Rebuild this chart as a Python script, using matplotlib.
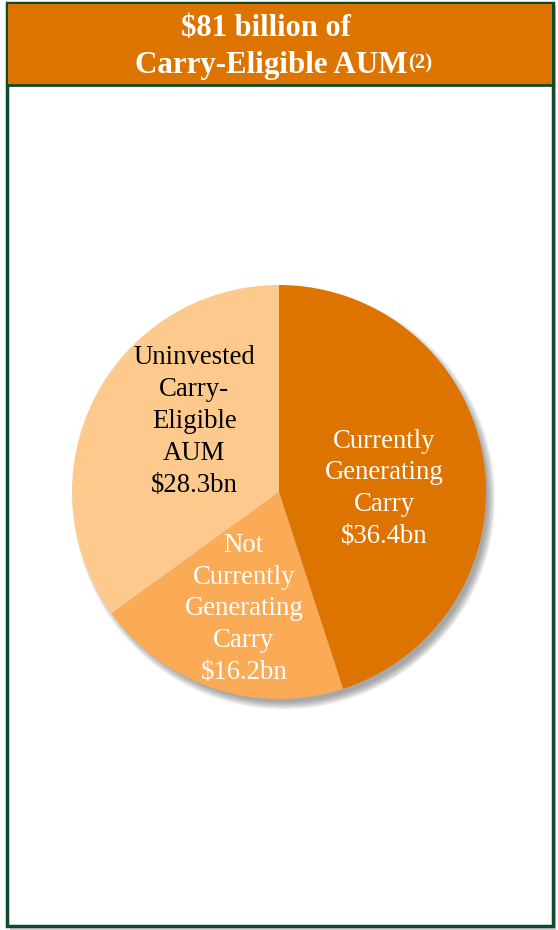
import matplotlib.pyplot as plt
from matplotlib.patches import Rectangle, Circle

# Carry-eligible AUM breakdown ($bn)
labels = ["Currently\nGenerating\nCarry", "Not\nCurrently\nGenerating\nCarry",
          "Uninvested\nCarry-\nEligible\nAUM"]
values = [36.4, 16.2, 28.3]
colors = ["#DE7400", "#FBAA55", "#FDC98D"]
text_colors = ["white", "white", "black"]
label_pos = [(0.51, 0.015), (-0.17, -0.565), (-0.41, 0.34)]

title_line1 = "$81 billion of"
title_line2 = "Carry-Eligible AUM"
title_note = "(2)"

plt.rcParams['font.family'] = ['Liberation Serif', 'DejaVu Serif']

W, H = 558, 930
fig = plt.figure(figsize=(W / 100, H / 100), dpi=100)

# frame and header drawn in pixel coordinates
bg = fig.add_axes([0, 0, 1, 1])
bg.set_xlim(0, W)
bg.set_ylim(H, 0)
bg.axis('off')
green = "#0E4B2C"
bg.add_patch(Rectangle((10, 6), 546, 924, facecolor="#B0B0B0", edgecolor="none", alpha=0.6))
bg.add_patch(Rectangle((7, 3), 546, 923, facecolor="white", edgecolor=green, lw=2.5))
bg.add_patch(Rectangle((8, 4), 544, 81, facecolor="#DE7400", edgecolor="none"))
bg.plot([8, 552], [85, 85], color=green, lw=2)

bg.text(266, 28, title_line1, ha='center', va='center', color='white',
        fontsize=22, fontweight='bold')
t2 = bg.text(271, 66, title_line2, ha='center', va='center', color='white',
             fontsize=22.3, fontweight='bold')
bg.annotate(title_note, xy=(1, 0.92), xycoords=t2, xytext=(0.5, 0), textcoords='offset points',
            ha='left', va='top', color='white', fontsize=15, fontweight='bold')

# pie chart
cx, cy, r = 279, 492, 207
scale = 1.25
ax = fig.add_axes([(cx - r * scale) / W, (H - cy - r * scale) / H,
                   2 * r * scale / W, 2 * r * scale / H])
ax.set_xlim(-scale, scale)
ax.set_ylim(-scale, scale)
ax.set_aspect('equal')
ax.axis('off')

# soft drop shadow, offset toward the lower right
for k in range(8):
    ax.add_patch(Circle((0.024, -0.03), 1.02 - 0.005 * k, facecolor='#404040',
                        edgecolor='none', alpha=0.07, zorder=0))

wedges, _ = ax.pie(values, colors=colors, startangle=90, counterclock=False,
                   radius=1.0, wedgeprops=dict(linewidth=0))
for w in wedges:
    w.set_zorder(2)

for lab, v, tc, (x, y) in zip(labels, values, text_colors, label_pos):
    ax.text(x, y, f"{lab}\n${v:.1f}bn", ha='center', va='center', color=tc,
            fontsize=19.3, linespacing=1.36, zorder=3)

fig.savefig("out.png", dpi=100)
